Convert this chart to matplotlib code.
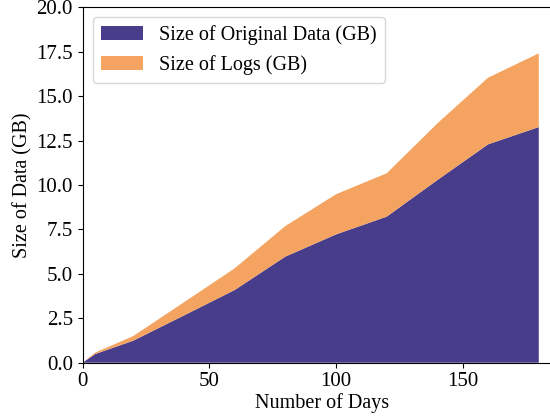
import matplotlib.pyplot as plt

plt.rcParams["font.family"] = ["Liberation Serif", "DejaVu Serif"]
plt.rcParams["font.size"] = 14.5

days = [0, 5, 20, 40, 60, 80, 100, 120, 140, 160, 180]
original_gb = [0.0, 0.49, 1.24, 2.66, 4.09, 5.97, 7.22, 8.22, 10.28, 12.29, 13.26]
logs_gb = [0.0, 0.08, 0.26, 0.74, 1.22, 1.72, 2.26, 2.44, 3.19, 3.75, 4.15]

fig = plt.figure(figsize=(5.5, 4.18), dpi=100)
# axes run past the right edge of the figure, as in the cropped original
ax = fig.add_axes([82.6 / 550, (418 - 362.7) / 418, 479 / 550, 355.4 / 418])
ax.stackplot(days, original_gb, logs_gb,
             colors=["#483D8B", "#F4A460"],
             labels=["Size of Original Data (GB)", "Size of Logs (GB)"])
ax.set_xlim(0, 189)
ax.set_ylim(0, 20)
ax.set_xticks([0, 50, 100, 150])
ax.set_yticks([0, 2.5, 5, 7.5, 10, 12.5, 15, 17.5, 20])
ax.tick_params(labelsize=15)
ax.set_xlabel("Number of Days", fontsize=14.5, labelpad=1)
ax.set_ylabel("Size of Data (GB)", fontsize=14.5, labelpad=3)
ax.legend(loc="upper left", handlelength=2.1, fontsize=14.5)

fig.savefig("out.png", dpi=100)
plt.close()
